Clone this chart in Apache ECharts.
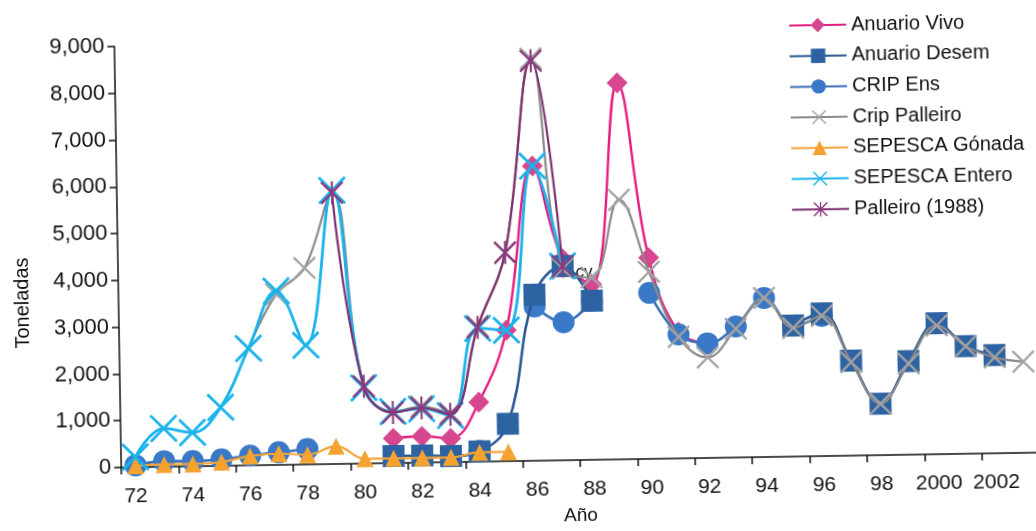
<!DOCTYPE html>
<html>
<head>
<meta charset="utf-8">
<script src="https://cdn.jsdelivr.net/npm/echarts@6/dist/echarts.min.js"></script>
<style>
  html, body { margin: 0; padding: 0; background: #fff; overflow: hidden; }
  #chart { width: 1036px; height: 531px; transform: rotate(-0.93deg); transform-origin: 50% 50%; }
</style>
</head>
<body>
<div id="chart"></div>
<script>
// Years on the category axis (1972-2003)
const years = ['72','73','74','75','76','77','78','79','80','81','82','83','84','85','86','87',
               '88','89','90','91','92','93','94','95','96','97','98','99','2000','2001','2002','2003'];

// Catch in tonnes per source (null = no record that year)
const anuarioVivo = [null,null,null,null,null,null,null,null,null,530,560,510,1270,2800,6300,4300,
                     3750,8050,4300,2700,2450,null,null,null,null,null,null,null,null,null,null,null];
const anuarioDesem = [null,null,null,null,null,null,null,null,null,150,150,130,220,800,3550,4150,
                      3400,null,null,null,null,null,null,2800,3050,2030,1100,2000,2800,2300,2100,null];
const cripEns = [40,120,110,140,210,270,330,null,null,null,null,null,230,null,3300,2950,
                 3400,null,3550,2650,2450,2800,3400,2800,3000,null,null,null,null,null,null,null];
const cripPalleiro = [null,null,null,null,2500,3650,4200,5800,1650,1100,1200,1050,2900,4450,8600,4100,
                      3900,5550,4000,2600,2150,2750,3400,2750,3000,2000,1100,1950,2750,2300,2050,1950];
const sepescaGonada = [30,50,50,80,200,240,210,380,100,100,100,100,200,200,null,null,
                       null,null,null,null,null,null,null,null,null,null,null,null,null,null,null,null];
const sepescaEntero = [220,820,720,1250,2500,3720,2550,5850,1620,1100,1150,1000,2850,2800,6300,4150,
                       null,null,null,null,null,null,null,null,null,null,null,null,null,null,null,null];
const palleiro1988 = [null,null,null,null,null,null,null,5800,1650,1080,1170,1020,2870,4460,8550,4150,
                      null,null,null,null,null,null,null,null,null,null,null,null,null,null,null,null];

const seriesNames = ['Anuario Vivo','Anuario Desem','CRIP Ens','Crip Palleiro','SEPESCA Gónada','SEPESCA Entero','Palleiro (1988)'];

// Filled cross and asterisk marker shapes
const CROSS = 'M0,1.4L1.4,0L10,8.6L18.6,0L20,1.4L11.4,10L20,18.6L18.6,20L10,11.4L1.4,20L0,18.6L8.6,10Z';
const STAR = CROSS + 'M9.1,0L10.9,0L10.9,20L9.1,20Z';

function lineSeries(name, data, color, lineColor, symbol, size, width, z) {
  return {
    name: name,
    type: 'line',
    data: data,
    smooth: 0.4,
    symbol: symbol,
    symbolSize: size,
    showAllSymbol: true,
    z: z,
    itemStyle: { color: color },
    lineStyle: { color: lineColor, width: width },
    emphasis: { disabled: true }
  };
}

const chart = echarts.init(document.getElementById('chart'), null, { renderer: 'canvas' });
chart.setOption({
  animation: false,
  backgroundColor: '#ffffff',
  textStyle: { fontFamily: 'Liberation Sans, Arial, sans-serif' },
  grid: { left: 118, right: -8, top: 40, bottom: 59.5, containLabel: false },
  legend: {
    data: seriesNames,
    orient: 'vertical',
    left: 787,
    top: 15,
    itemWidth: 57,
    itemHeight: 18,
    itemGap: 10.7,
    textStyle: { fontSize: 20, color: '#111', lineHeight: 18 }
  },
  xAxis: {
    type: 'category',
    data: years,
    boundaryGap: true,
    name: 'Año',
    nameLocation: 'middle',
    nameGap: 46,
    nameTextStyle: { fontSize: 19, color: '#111' },
    axisLine: { lineStyle: { color: '#111', width: 1.5 } },
    axisTick: { show: true, length: 7, lineStyle: { color: '#111', width: 1.5 } },
    axisLabel: { interval: 1, fontSize: 21, color: '#111', margin: 19 },
    splitLine: { show: false }
  },
  yAxis: {
    type: 'value',
    min: 0,
    max: 9000,
    interval: 1000,
    axisLine: { show: true, lineStyle: { color: '#111', width: 1.5 } },
    axisTick: { show: true, length: 7, lineStyle: { color: '#111', width: 1.5 } },
    axisLabel: {
      fontSize: 22, color: '#111', margin: 10,
      formatter: v => v.toLocaleString('en-US')
    },
    splitLine: { show: false }
  },
  graphic: [
    {
      type: 'text', x: 22, y: 295, rotation: Math.PI / 2,
      style: { text: 'Toneladas', font: '20px "Liberation Sans", Arial, sans-serif', fill: '#111',
               textAlign: 'center', textVerticalAlign: 'middle' }
    },
    {
      type: 'text', x: 584, y: 273, z: 0,
      style: { text: 'cv', font: '17px "Liberation Sans", Arial, sans-serif', fill: '#111',
               textAlign: 'center', textVerticalAlign: 'middle' }
    }
  ],
  series: [
    lineSeries('Anuario Vivo', anuarioVivo, '#d6478f', '#e81b80', 'diamond', 21, 2.4, 2),
    lineSeries('CRIP Ens', cripEns, '#3a78c8', '#3a6fb8', 'circle', 22, 2.6, 3),
    lineSeries('Anuario Desem', anuarioDesem, '#2d62a3', '#2a5894', 'rect', 22, 2.6, 4),
    lineSeries('Crip Palleiro', cripPalleiro, '#a3a3a3', '#8a8a8a', 'path://' + CROSS, 23, 2.2, 5),
    lineSeries('SEPESCA Gónada', sepescaGonada, '#f4a331', '#f2a53a', 'triangle', 17, 2.2, 6),
    lineSeries('SEPESCA Entero', sepescaEntero, '#1ab3ec', '#1ab3ec', 'path://' + CROSS, 28, 2.8, 7),
    lineSeries('Palleiro (1988)', palleiro1988, '#8c3a7c', '#7e2f6e', 'path://' + STAR, 23, 2.2, 8)
  ]
});
</script>
</body>
</html>
